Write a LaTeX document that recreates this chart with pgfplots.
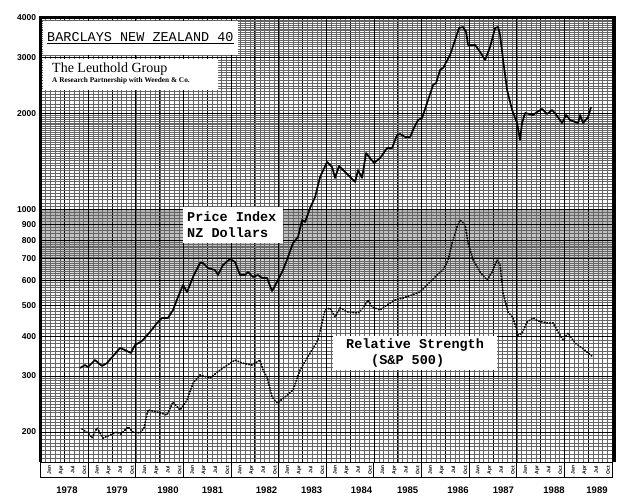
\documentclass[border=0pt]{standalone}
\usepackage{pgfplots}
\pgfplotsset{compat=1.18}
\usepackage{fontspec}
\setmainfont{Liberation Serif}
\newfontfamily\monof{Liberation Mono}
\newfontfamily\sansf{Liberation Sans}

\pgfplotstableread{
t v
1978.826 317.8
1978.931 324.8
1978.994 320.1
1979.141 336.7
1979.288 322.4
1979.393 329.5
1979.666 367.3
1979.771 362.0
1979.897 354.2
1979.981 375.3
1980.128 386.4
1980.296 412.4
1980.443 440.2
1980.548 456.4
1980.674 456.4
1980.779 483.6
1980.884 531.3
1980.990 579.4
1981.074 550.8
1981.200 614.0
1981.347 679.4
1981.410 679.4
1981.515 655.2
1981.662 645.8
1981.725 623.0
1981.830 669.6
1981.977 699.4
1982.082 684.4
1982.187 623.0
1982.292 623.0
1982.355 636.5
1982.460 614.0
1982.565 623.0
1982.649 609.6
1982.754 609.6
1982.859 554.8
1982.964 592.2
1983.090 645.8
1983.195 709.6
1983.300 785.3
1983.405 820.1
1983.490 927.4
1983.553 914.1
1983.658 1011.5
1983.763 1095.3
1983.868 1266
1984.015 1411
1984.120 1361
1984.183 1257
1984.267 1371
1984.393 1313
1984.498 1266
1984.603 1221
1984.666 1331
1984.750 1257
1984.834 1506
1984.918 1452
1985.002 1401
1985.128 1452
1985.275 1561
1985.380 1561
1985.485 1715
1985.548 1728
1985.653 1691
1985.758 1691
1985.821 1779
1985.926 1912
1986.011 1940
1986.116 2162
1986.242 2463
1986.305 2499
1986.389 2746
1986.452 2786
1986.599 3061
1986.704 3411
1986.788 3721
1986.872 3748
1986.935 3615
1986.977 3291
1987.124 3291
1987.229 3128
1987.334 2952
1987.439 3243
1987.544 3721
1987.607 3748
1987.649 3537
1987.712 2952
1987.796 2376
1987.901 2056
1988.006 1871
1988.069 1655
1988.111 1871
1988.174 2012
1988.342 1983
1988.426 2026
1988.532 2071
1988.637 1997
1988.742 2056
1988.847 1968
1988.952 1871
1989.036 1983
1989.120 1912
1989.225 1885
1989.288 1871
1989.330 1983
1989.393 1871
1989.498 1954
1989.561 2101
}\price

\pgfplotstableread{
t v
1978.868 204.4
1978.994 198.6
1979.078 191.5
1979.183 205.9
1979.309 191.5
1979.456 195.7
1979.603 200.0
1979.687 197.1
1979.834 207.4
1979.939 200.0
1980.086 198.6
1980.170 205.9
1980.254 234.6
1980.443 231.2
1980.653 226.2
1980.779 248.5
1980.926 234.6
1981.074 252.1
1981.200 285.1
1981.347 302.1
1981.557 295.6
1981.767 313.2
1982.082 336.7
1982.229 329.5
1982.439 324.8
1982.607 336.7
1982.670 313.2
1982.754 297.8
1982.859 257.7
1982.964 246.7
1983.132 257.7
1983.300 271.0
1983.447 313.2
1983.658 354.2
1983.826 389.2
1983.910 440.2
1983.973 483.6
1984.078 490.6
1984.183 459.7
1984.288 490.6
1984.456 476.6
1984.666 473.1
1984.771 490.6
1984.876 519.9
1984.960 494.2
1985.128 483.6
1985.275 501.5
1985.443 519.9
1985.611 527.5
1985.800 539.0
1985.968 550.8
1986.116 579.4
1986.326 623.0
1986.452 645.8
1986.557 694.4
1986.641 785.3
1986.746 881.6
1986.809 927.4
1986.914 894.5
1986.977 785.3
1987.082 694.4
1987.229 636.5
1987.376 600.9
1987.481 636.5
1987.586 694.4
1987.649 669.6
1987.712 546.8
1987.817 476.6
1987.922 456.4
1988.027 403.5
1988.111 409.4
1988.216 443.4
1988.342 456.4
1988.447 446.6
1988.637 440.2
1988.763 440.2
1988.868 412.4
1988.973 389.2
1989.078 409.4
1989.225 380.9
1989.372 367.3
1989.498 354.2
1989.603 344.1
}\rs

\begin{document}
\begin{tikzpicture}[x=1pt,y=1pt]
\path[use as bounding box] (0,0) rectangle (631,-497);
% scanned gray band
\shade[top color=black!30, bottom color=black!18] (40.7,-209) rectangle (612,-262);
\shade[top color=black!18, bottom color=white] (40.7,-262) rectangle (612,-305);
\begin{axis}[
  at={(40.7pt,-462pt)}, anchor=south west,
  scale only axis, width=571.3pt, height=444pt,
  xmin=1978, xmax=1990,
  ymode=log, ymin=161, ymax=4000,
  axis line style={draw=none},
  xtick={1978,1978.5,...,1990}, xticklabels={},
  minor xtick={1978,1978.1,...,1990},
  extra x ticks={1979,1980,...,1989},
  extra x tick labels={},
  extra x tick style={grid style={black, line width=1.2pt}},
  ytick={200,300,400,500,600,700,800,900,1000,2000,3000,4000},
  yticklabels={200,300,400,500,600,700,800,900,1000,2000,3000,4000},
  yticklabel style={font=\sansf\bfseries\fontsize{8.5}{8.5}\selectfont, anchor=east, inner sep=0pt, xshift=-4.5pt},
  minor ytick={165,170,...,295,310,320,...,490,510,520,...,590,610,620,...,690,710,720,...,790,820,840,860,880,920,940,960,980,1025,1050,...,1975,2050,2100,...,2950,3050,3100,...,3950},
  major tick length=0pt, minor tick length=0pt,
  grid=both,
  major grid style={black, line width=0.9pt},
  minor grid style={black!60, line width=0.4pt},
  clip=false,
]
\addplot[black, line width=1.7pt, line join=round] table[x=t,y=v] {\price};
\addplot[black, line width=1.8pt, line cap=round, dash pattern=on 0.6pt off 2.2pt] table[x=t,y=v] {\rs};
\draw[line width=3pt] (rel axis cs:0,0) -- (rel axis cs:0,1);
\draw[line width=3pt] ([xshift=-1.5pt]rel axis cs:0,1) -- ([xshift=1.5pt]rel axis cs:1,1);
\draw[line width=4pt] ([xshift=2pt]rel axis cs:1,0) -- ([xshift=2pt,yshift=1.5pt]rel axis cs:1,1);
\end{axis}
% title boxes
\fill[white] (42.5,-21) rectangle (238,-55);
\node[anchor=west, inner sep=0pt, font=\monof\fontsize{13.5}{14}\selectfont] at (47,-38) {\underline{BARCLAYS NEW ZEALAND 40}};
\fill[white] (42.5,-59) rectangle (218,-90);
\node[anchor=west, inner sep=0pt, font=\fontsize{14}{15}\selectfont] at (52,-69) {The Leuthold Group};
\node[anchor=west, inner sep=0pt, font=\bfseries\fontsize{7.3}{8}\selectfont] at (52,-80.5) {A Research Partnership with Weeden \& Co.};
% price box
\fill[white] (183,-207) rectangle (283,-243);
\node[anchor=west, inner sep=0pt, font=\monof\bfseries\fontsize{13.5}{14}\selectfont] at (187,-217) {Price Index};
\node[anchor=west, inner sep=0pt, font=\monof\bfseries\fontsize{13.5}{14}\selectfont] at (187,-233) {NZ Dollars};
% RS box
\fill[white] (333,-336) rectangle (497,-370);
\node[anchor=west, inner sep=0pt, font=\monof\bfseries\fontsize{13.5}{14}\selectfont] at (346,-345) {Relative Strength};
\node[anchor=west, inner sep=0pt, font=\monof\bfseries\fontsize{13.5}{14}\selectfont] at (371,-361) {(S\&P 500)};
% month strip
\draw[line width=0.9pt] (40.7,-462) rectangle (612,-477);
\foreach \i in {1,...,11} \draw[line width=0.9pt] ({40.7+47.6*\i},-462) -- ++(0,-15);
\foreach \i in {0,...,11} {
  \foreach \f/\m in {0.18/Jan,0.43/Apr,0.67/Jul,0.92/Oct}
    \node[rotate=90, inner sep=0pt, font=\sansf\bfseries\fontsize{5}{5}\selectfont] at ({40.7+47.6*(\i+\f)},-470) {\m};
}
% year labels
\foreach \y/\xx in {1978/67,1979/117,1980/168,1981/212.5,1982/266.5,1983/311.6,1984/361.5,1985/407.7,1986/458,1987/503.4,1988/554,1989/597}
  \node[font=\sansf\bfseries\fontsize{9.5}{9.5}\selectfont, inner sep=0pt] at (\xx,-490) {\y};
\end{tikzpicture}
\end{document}
